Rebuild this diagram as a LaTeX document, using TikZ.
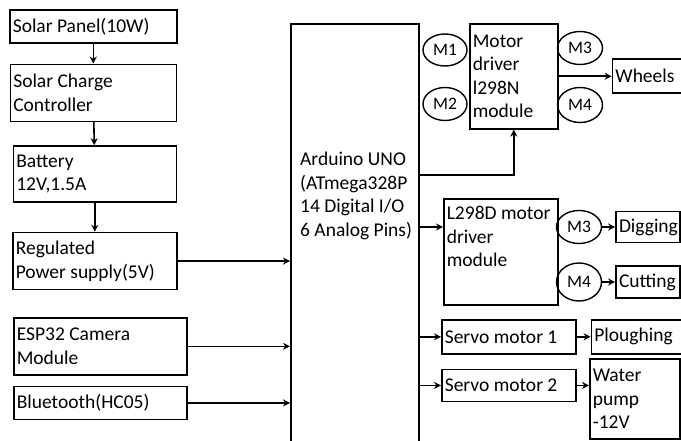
\documentclass[tikz,border=0pt]{standalone}
\usepackage{fontspec}
\setmainfont{Carlito}
\usetikzlibrary{shapes.geometric, arrows.meta, positioning}

\begin{document}
\begin{tikzpicture}[
    x=1pt, y=-1pt,
    every node/.style={font=\fontsize{19.5}{23.5}\selectfont},
    box/.style={rectangle, draw, line width=1.6pt, align=flush left, anchor=north west,
                inner xsep=3pt, inner ysep=0pt},
    motor/.style={ellipse, draw, line width=1.4pt, inner sep=0pt,
                  minimum width=45pt, minimum height=33pt,
                  font=\fontsize{17.5}{20}\selectfont},
    arr/.style={-{Stealth[length=7pt, width=7pt]}, line width=1.6pt}
]
\useasboundingbox (0,0) rectangle (681,441);

\node[box, text width=161pt, minimum height=33pt] (panel) at (9,9) {Solar Panel(10W)};
\node[box, text width=160pt, minimum height=57pt, below=20pt of panel] (charge) {Solar Charge\\Controller};
\node[box, text width=157pt, minimum height=56pt, below=23pt of charge, xshift=1.5pt] (battery) {Battery\\12V,1.5A};
\node[box, text width=158pt, minimum height=57pt, below=29pt of battery] (supply) {Regulated\\Power supply(5V)};
\node[box, text width=167pt, minimum height=57pt] (esp) at (13,317) {ESP32 Camera\\Module};
\node[box, text width=167pt, minimum height=33pt, below=10pt of esp] (bt) {Bluetooth(HC05)};

\node[box, minimum width=128pt, minimum height=450pt] (uno) at (290,23) {};
\node[align=left, anchor=west, inner sep=0pt] (unotext) at (300,196)
    {Arduino UNO\\(ATmega328P\\14 Digital I/O\\6 Analog Pins)};

\node[box, text width=82pt, minimum height=105pt] (drv) at (469,23) {Motor\\driver\\l298N\\module};
\node[motor, minimum width=44pt, minimum height=32pt] (m1) at (445,50) {M1};
\node[motor, minimum width=44pt, minimum height=33pt] (m2) at (445,104) {M2};
\node[motor] (m3) at (580,48) {M3};
\node[motor, minimum height=35pt] (m4) at (580,105) {M4};
\node[box, text width=63pt, minimum height=34pt, right=53pt of drv] (wheels) {Wheels};

\node[box, text width=108pt, minimum height=106pt] (ldrv) at (443,198) {L298D motor\\driver\\module\\\strut};
\node[motor] (lm3) at (579,227) {M3};
\node[motor, minimum height=38pt] (lm4) at (579,282) {M4};
\node[box, text width=58pt, minimum height=31pt, right=13pt of lm3] (dig) {Digging};
\node[box, text width=58pt, minimum height=32pt, right=13pt of lm4] (cut) {Cutting};

\node[box, text width=128pt, minimum height=34pt] (servoa) at (441,319) {Servo motor 1};
\node[box, text width=128pt, minimum height=32pt, below=14pt of servoa] (servob) {Servo motor 2};
\node[box, text width=84pt, minimum height=34pt, right=14pt of servoa] (plough) {Ploughing};
\node[box, text width=84pt, minimum height=80pt] (pump) at (589,358) {Water\\pump\\-12V};

\draw[arr] (panel) -- (charge);
\draw[arr] (charge) -- (battery);
\draw[arr] (battery) -- (supply);

\draw[arr] (supply.east) -- (supply.east -| uno.west);
\draw[arr] (esp.east) -- (esp.east -| uno.west);
\draw[arr] (bt.east) -- (bt.east -| uno.west);

\draw[arr] (uno.east |- 0,175) -| (drv.south);
\draw[arr] (drv.east |- wheels) -- (wheels);
\draw[arr] (uno.east |- 0,227) -- (ldrv.west |- 0,227);
\draw[arr] (uno.east |- servoa) -- (servoa);
\draw[arr] (uno.east |- servob) -- (servob);

\draw[arr] (lm3) -- (dig);
\draw[arr] (lm4) -- (cut);
\draw[arr] (servoa) -- (plough);
\draw[arr] (servob) -- (pump.west |- servob);
\end{tikzpicture}
\end{document}
